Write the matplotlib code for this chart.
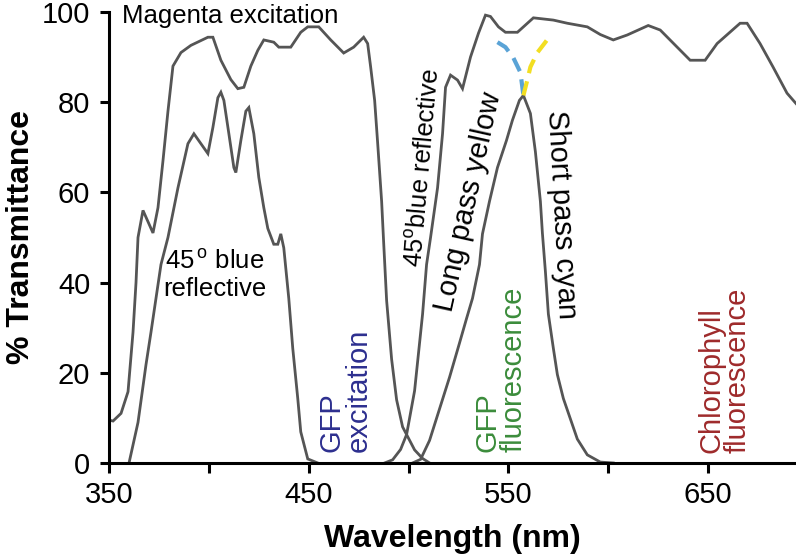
import matplotlib
matplotlib.use("Agg")
import matplotlib.pyplot as plt

plt.rcParams['font.family'] = ['Liberation Sans', 'DejaVu Sans']
plt.rcParams['mathtext.fontset'] = 'custom'
plt.rcParams['mathtext.rm'] = 'Liberation Sans'

# transmission curves (wavelength in nm, % transmittance)
magenta_wl = [350, 352, 356, 359.5, 362, 363.5, 364.5, 367, 372, 374.5, 377, 379.5, 382, 386, 391, 399.5,
              402, 406, 411, 414.5, 417.5, 421, 424.5, 427.5, 432.5, 435, 441, 446, 449.5, 455, 461, 467.5,
              472.5, 477.5, 479.5, 481, 483, 484.5, 486.5, 487.5, 489, 491.5, 494, 497, 499, 503, 507, 510.5]
magenta_T = [9.5, 9.3, 11, 15.8, 29, 40, 50, 56, 51, 56.6, 67, 78, 88, 91, 92.6, 94.4,
             94.4, 89.3, 85, 83, 83.3, 88, 91.5, 93.8, 93.3, 92.2, 92.2, 95.5, 96.7, 96.7, 93.8, 90.9,
             92.2, 94.4, 93, 87.8, 80.4, 71, 58, 49, 36, 23, 14, 8, 6.3, 2.9, 1, 0]

blue_wl = [360, 364.5, 368.5, 371, 373.5, 376, 379.5, 384.5, 389.5, 392.5, 396, 399.5, 402, 404.5, 406,
           407.5, 410, 412.5, 413.5, 416, 418.5, 420, 422.5, 425, 427.5, 429.5, 432.5, 434.5, 436, 437.5,
           440, 442, 444.5, 446, 449.5, 454.5]
blue_T = [0, 9, 21.8, 29, 36.5, 44, 50, 61, 70.8, 73, 70.8, 68.6, 74.4, 81, 82.2,
          80.4, 73, 65.5, 64.4, 71.5, 78, 78.8, 73, 63.3, 56.6, 52, 48.5, 48.5, 50.8, 47.7,
          36.5, 25.4, 14.3, 6.9, 0.9, 0]

refl_wl = [488, 492, 496, 499, 503, 507, 509, 511, 514.5, 517, 518.5, 521, 524.5, 527, 531, 535, 538.5,
           541, 545, 548.5, 554.5, 559.5, 562.5, 572.5, 579.5, 589.5, 596, 602.5, 609.5, 612.5, 620, 626,
           634.5, 641, 648.5, 654.5, 666, 669.5, 676, 682.5, 689.5, 694]
refl_T = [0, 0.7, 3, 6.3, 16, 33, 44, 50, 61, 73, 83.3, 86, 84.9, 83, 90, 95.3, 99.3,
          99, 96.7, 95.5, 95.5, 97.5, 98.7, 98.2, 97.5, 96.7, 95, 93.8, 94.9, 95.5, 97, 96,
          92.2, 89.3, 89.3, 93, 97.5, 97.5, 93, 87.8, 82, 79.7]

longpass_wl = [502, 506, 510.5, 515.5, 520.5, 525.5, 529, 532, 535.5, 537, 540.5, 544.5, 549, 552, 555.5, 557.5]
longpass_T = [0, 0.8, 5, 12, 19, 26.6, 32, 36.5, 44, 50.8, 58, 65.5, 71.5, 76, 80.4, 81.5]

shortpass_wl = [557.5, 561, 563.5, 566, 567, 568.5, 570, 572.5, 574.5, 577.5, 581, 584.5, 589.5, 596, 602.5]
shortpass_T = [81.5, 77.5, 69, 58, 51, 42.5, 33, 25.4, 19.6, 14.3, 9.8, 5.3, 1.8, 0.2, 0]

cyan_dash_wl = [544.5, 548.5, 552.5, 556, 557.5]
cyan_dash_T = [93.3, 92.2, 89.8, 86.6, 81.5]
yellow_dash_wl = [557.5, 559.5, 561, 564.5, 568.5, 570]
yellow_dash_T = [81.5, 85, 87.8, 91, 93.3, 94.2]

major_ticks = [350, 450, 550, 650]
minor_ticks = [400, 500, 600]
y_ticks = [0, 20, 40, 60, 80, 100]

fig = plt.figure(figsize=(7.96, 5.57), dpi=100)
ax = fig.add_axes([0.137, 0.1688, 0.863, 0.8097])

line_kw = dict(color='#555555', lw=2.0, solid_joinstyle='miter')
for wl, T in [(magenta_wl, magenta_T), (blue_wl, blue_T), (refl_wl, refl_T),
              (longpass_wl, longpass_T), (shortpass_wl, shortpass_T)]:
    ax.plot(wl, T, **line_kw)

ax.plot(cyan_dash_wl, cyan_dash_T, color='#5aa3d6', lw=3, dashes=(3.5, 2))
ax.plot(yellow_dash_wl, yellow_dash_T, color='#f2de22', lw=3, dashes=(3.5, 2))

ax.set_xlim(350, 694)
ax.set_ylim(0, 100)
for s in ['top', 'right']:
    ax.spines[s].set_visible(False)
for s in ['left', 'bottom']:
    ax.spines[s].set_linewidth(2.2)

ax.set_xticks(major_ticks)
ax.set_xticks(minor_ticks, minor=True)
ax.set_yticks(y_ticks)
ax.tick_params(axis='x', which='both', direction='out', length=7.2, width=2.2, labelsize=21, pad=6)
ax.tick_params(axis='y', direction='out', length=6.5, width=2.2, labelsize=21, pad=7)

ax.set_xlabel('Wavelength (nm)', fontsize=23, fontweight='bold')
ax.xaxis.set_label_coords(0.5, -0.135)
ax.xaxis.label.set_va('top')
ax.set_ylabel('% Transmittance', fontsize=23, fontweight='bold')
ax.yaxis.set_label_coords(-0.106, 0.5)

# curve labels
ax.text(356.5, 97.6, 'Magenta excitation', fontsize=18.5, ha='left', va='baseline')
ax.text(403, 41.7, '45$^{\\,\\mathrm{o}}$ blue\nreflective', fontsize=18.5, ha='center', va='center',
        linespacing=1.15)
ax.text(507.5, 65.4, '45$^{\\mathrm{o}}$blue reflective', fontsize=18.5, rotation=85,
        ha='center', va='center')
ax.text(530, 58, 'Long pass yellow', fontsize=21, rotation=77.5, ha='center', va='center')
ax.text(576.5, 55, 'Short pass cyan', fontsize=21, rotation=-87, ha='center', va='center')

ax.text(468.25, 2.4, 'GFP\nexcitation', fontsize=21, color='#2d2f8f', rotation=90,
        ha='center', va='bottom', multialignment='left', linespacing=0.95)
ax.text(546, 2.4, 'GFP\nfluorescence', fontsize=21, color='#3b8c3b', rotation=90,
        ha='center', va='bottom', multialignment='left', linespacing=0.95)
ax.text(658.25, 2.2, 'Chlorophyll\nfluorescence', fontsize=21, color='#9e2a2b', rotation=90,
        ha='center', va='bottom', multialignment='left', linespacing=0.95)

fig.savefig('out.png', dpi=100)
